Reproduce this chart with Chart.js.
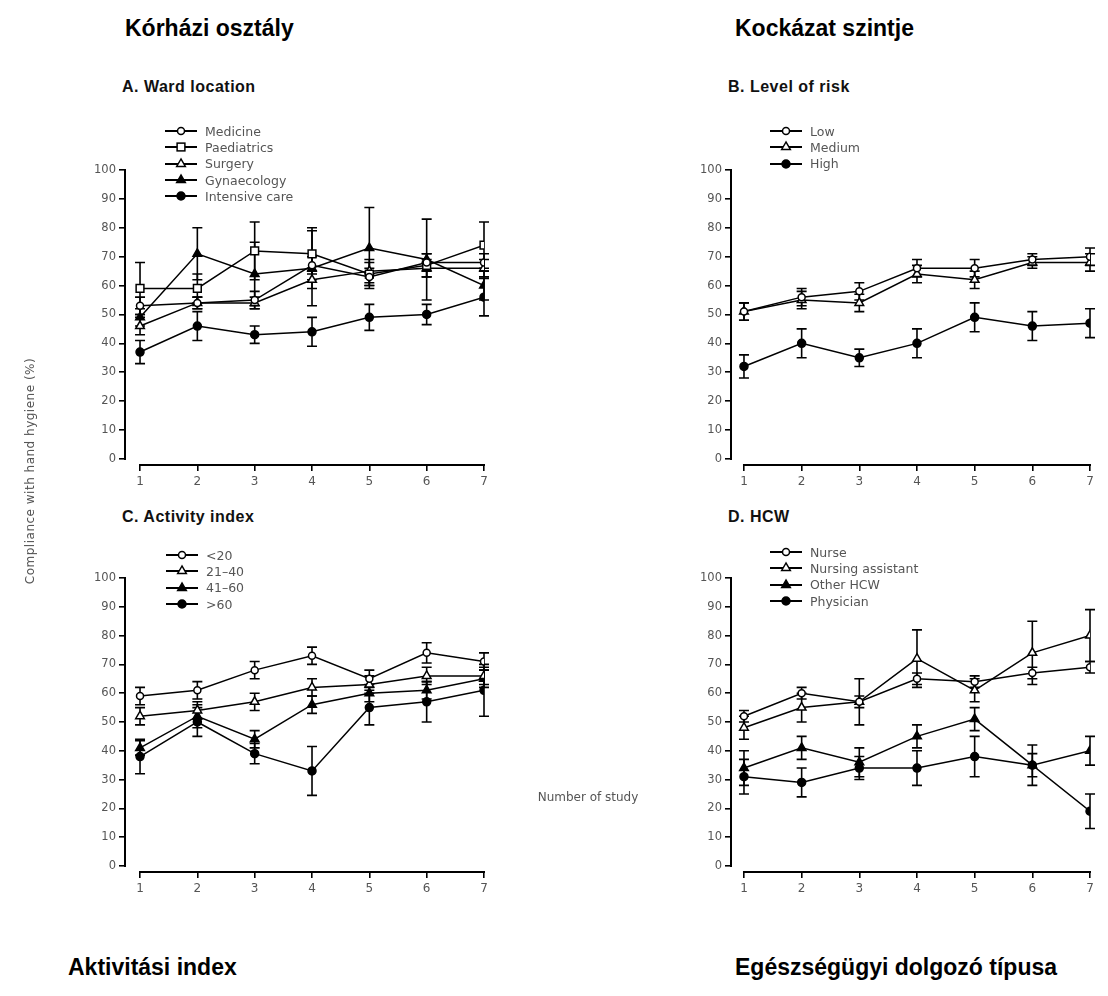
<!DOCTYPE html>
<html>
<head>
<meta charset="utf-8">
<script src="https://cdn.jsdelivr.net/npm/chart.js@4.4.0/dist/chart.umd.min.js"></script>
<style>
  html,body{margin:0;padding:0;background:#fff;}
  #page{position:relative;width:1108px;height:996px;overflow:hidden;background:#fff;font-family:"Liberation Sans",Arial,sans-serif;}
  .big{position:absolute;font-weight:bold;font-size:23px;color:#000;line-height:26px;white-space:nowrap;}
  .ptitle{position:absolute;font-weight:bold;font-size:16px;letter-spacing:0.5px;color:#111;line-height:18px;white-space:nowrap;}
  .cv{position:absolute;}
  .legend{position:absolute;font-family:"DejaVu Sans",sans-serif;font-size:12.5px;color:#555;white-space:nowrap;}
  .legend .row{height:16.3px;display:flex;align-items:center;}
  .legend svg{margin-right:8px;flex:none;}
  .axt{position:absolute;font-family:"DejaVu Sans",sans-serif;font-size:12px;font-weight:normal;color:#555;white-space:nowrap;}
</style>
</head>
<body>
<div id="page">
  <div class="big" style="left:125px;top:15px;">Kórházi osztály</div>
  <div class="big" style="left:735px;top:15px;">Kockázat szintje</div>
  <div class="big" style="left:68px;top:954px;">Aktivitási index</div>
  <div class="big" style="left:735px;top:954px;">Egészségügyi dolgozó típusa</div>

  <div class="ptitle" style="left:122px;top:78px;">A. Ward location</div>
  <div class="ptitle" style="left:728px;top:78px;">B. Level of risk</div>
  <div class="ptitle" style="left:122px;top:508px;">C. Activity index</div>
  <div class="ptitle" style="left:728px;top:508px;">D. HCW</div>

  <canvas id="cA" class="cv" width="500" height="350" style="left:0px;top:150px;"></canvas>
  <canvas id="cB" class="cv" width="500" height="350" style="left:606px;top:150px;"></canvas>
  <canvas id="cC" class="cv" width="500" height="349" style="left:0px;top:558px;"></canvas>
  <canvas id="cD" class="cv" width="500" height="349" style="left:606px;top:558px;"></canvas>

  <div id="legA" class="legend" style="left:165px;top:123px;"></div>
  <div id="legB" class="legend" style="left:770px;top:123px;"></div>
  <div id="legC" class="legend" style="left:166px;top:547px;"></div>
  <div id="legD" class="legend" style="left:770px;top:544px;"></div>

  <div class="axt" style="left:30px;top:471px;width:260px;margin-left:-130px;margin-top:-8px;height:16px;line-height:16px;text-align:center;letter-spacing:0.5px;transform:rotate(-90deg);">Compliance with hand hygiene (%)</div>
  <div class="axt" style="left:588px;top:797px;transform:translate(-50%,-50%);">Number of study</div>
</div>

<script>
// ---------- DATA ----------
const studies = [1, 2, 3, 4, 5, 6, 7];
const yTickValues = [0, 10, 20, 30, 40, 50, 60, 70, 80, 90, 100];

// A. Ward location
const wardLabels = ['Medicine', 'Paediatrics', 'Surgery', 'Gynaecology', 'Intensive care'];
const wardMedicine       = [53, 54, 55, 67, 63, 68, 68];
const wardMedicineErr    = [3, 2, 3, 3, 3, 3, 3];
const wardPaediatrics    = [59, 59, 72, 71, 64, 67, 74];
const wardPaediatricsErr = [9, 5, 10, 9, 4, 4, 8];
const wardSurgery        = [46, 54, 54, 62, 65, 66, 66];
const wardSurgeryErr     = [3, 2, 2, 3, 4, 3, 3];
const wardGynaecology    = [49, 71, 64, 66, 73, 69, 60];
const wardGynaecologyErr = [3, 9, 11, 13, 14, 14, 5];
const wardIntensive      = [37, 46, 43, 44, 49, 50, 56];
const wardIntensiveErr   = [4, 5, 3, 5, 4.5, 3.5, 6.5];

// B. Level of risk
const riskLabels = ['Low', 'Medium', 'High'];
const riskLow       = [51, 56, 58, 66, 66, 69, 70];
const riskLowErr    = [3, 3, 3, 3, 3, 2, 3];
const riskMedium    = [51, 55, 54, 64, 62, 68, 68];
const riskMediumErr = [3, 3, 3, 3, 3, 2, 3];
const riskHigh      = [32, 40, 35, 40, 49, 46, 47];
const riskHighErr   = [4, 5, 3, 5, 5, 5, 5];

// C. Activity index
const activityLabels = ['<20', '21\u201340', '41\u201360', '>60'];
const actUnder20    = [59, 61, 68, 73, 65, 74, 71];
const actUnder20Err = [3, 3, 3, 3, 3, 3.5, 3];
const act21to40     = [52, 54, 57, 62, 63, 66, 66];
const act21to40Err  = [3, 3, 3, 3, 3, 3, 3];
const act41to60     = [41, 52, 44, 56, 60, 61, 65];
const act41to60Err  = [2.5, 4, 3, 3, 3, 3, 3];
const actOver60     = [38, 50, 39, 33, 55, 57, 61];
const actOver60Err  = [6, 5, 3.5, 8.5, 6, 7, 9];

// D. HCW
const hcwLabels = ['Nurse', 'Nursing assistant', 'Other HCW', 'Physician'];
const hcwNurse        = [52, 60, 57, 65, 64, 67, 69];
const hcwNurseErr     = [2, 2, 2, 2, 2, 2, 2];
const hcwAssistant    = [48, 55, 57, 72, 61, 74, 80];
const hcwAssistantErr = [4, 5, 8, 10, 4, 11, 9];
const hcwOther        = [34, 41, 36, 45, 51, 35, 40];
const hcwOtherErr     = [6, 4, 5, 4, 4, 4, 5];
const hcwPhysician    = [31, 29, 34, 34, 38, 35, 19];
const hcwPhysicianErr = [6, 5, 4, 6, 7, 7, 6];

// ---------- STYLES ----------
const markers = {
  openCircle:     {pointStyle: 'circle',   radius: 3.5, fill: '#fff'},
  openSquare:     {pointStyle: 'rect',     radius: 5.5, fill: '#fff'},
  openTriangle:   {pointStyle: 'triangle', radius: 5,   fill: '#fff'},
  filledTriangle: {pointStyle: 'triangle', radius: 5,   fill: '#000'},
  filledCircle:   {pointStyle: 'circle',   radius: 4,   fill: '#000'}
};
const tickFont = {family: 'DejaVu Sans', size: 12};
const tickColor = '#555';

function markerSvg(kind) {
  const m = markers[kind];
  const cx = 16, cy = 7;
  let shape = '';
  if (m.pointStyle === 'circle') {
    shape = `<circle cx="${cx}" cy="${cy}" r="${m.radius}" fill="${m.fill}" stroke="#000" stroke-width="1.5"/>`;
  } else if (m.pointStyle === 'rect') {
    const s = m.radius / Math.SQRT2;
    shape = `<rect x="${cx - s}" y="${cy - s}" width="${2 * s}" height="${2 * s}" fill="${m.fill}" stroke="#000" stroke-width="1.5"/>`;
  } else {
    const r = m.radius;
    shape = `<polygon points="${cx},${cy - r} ${cx - r * 0.866},${cy + r * 0.5} ${cx + r * 0.866},${cy + r * 0.5}" fill="${m.fill}" stroke="#000" stroke-width="1.5"/>`;
  }
  return `<svg width="32" height="14" viewBox="0 0 32 14"><line x1="0" y1="${cy}" x2="32" y2="${cy}" stroke="#000" stroke-width="2"/>${shape}</svg>`;
}

function buildLegend(id, labels, kinds) {
  const el = document.getElementById(id);
  el.innerHTML = labels.map((l, i) => {
    const span = document.createElement('span');
    span.textContent = l;
    return `<div class="row">${markerSvg(kinds[i])}${span.outerHTML}</div>`;
  }).join('');
}

const errorBarPlugin = {
  id: 'errorBars',
  beforeDatasetsDraw(chart) {
    const ctx = chart.ctx, xs = chart.scales.x, ys = chart.scales.y;
    ctx.save();
    ctx.strokeStyle = '#000';
    ctx.lineWidth = 1.6;
    chart.data.datasets.forEach(ds => {
      ds.data.forEach((p, i) => {
        const e = ds.errors[i];
        if (!e) return;
        const x = xs.getPixelForValue(p.x);
        const y1 = ys.getPixelForValue(p.y + e);
        const y2 = ys.getPixelForValue(p.y - e);
        ctx.beginPath();
        ctx.moveTo(x, y1); ctx.lineTo(x, y2);
        ctx.moveTo(x - 5, y1); ctx.lineTo(x + 5, y1);
        ctx.moveTo(x - 5, y2); ctx.lineTo(x + 5, y2);
        ctx.stroke();
      });
    });
    ctx.restore();
  }
};

const axisLinePlugin = {
  id: 'axisLines',
  afterDraw(chart) {
    const {ctx, chartArea: a, scales: {x, y}} = chart;
    ctx.save();
    ctx.strokeStyle = '#000';
    ctx.lineWidth = 2;
    ctx.beginPath();
    ctx.moveTo(a.left, y.getPixelForValue(yTickValues[yTickValues.length - 1]) - 1);
    ctx.lineTo(a.left, y.getPixelForValue(yTickValues[0]) + 1);
    ctx.moveTo(x.getPixelForValue(studies[0]) - 1, a.bottom);
    ctx.lineTo(x.getPixelForValue(studies[studies.length - 1]) + 1, a.bottom);
    ctx.stroke();
    ctx.restore();
  }
};

function makeChart(canvasId, series, xMin) {
  const datasets = series.map(s => {
    const m = markers[s.marker];
    return {
      label: s.label,
      data: studies.map((x, i) => ({x: x, y: s.values[i]})),
      errors: s.err,
      borderColor: '#000',
      borderWidth: 1.5,
      tension: 0,
      pointStyle: m.pointStyle,
      pointRadius: m.radius,
      pointBackgroundColor: m.fill,
      pointBorderColor: '#000',
      pointBorderWidth: 1.5
    };
  });
  const gridOpts = {drawOnChartArea: false, drawTicks: true, tickLength: 6, color: '#000', lineWidth: 1.6};
  return new Chart(document.getElementById(canvasId), {
    type: 'line',
    data: {datasets},
    options: {
      responsive: false,
      animation: false,
      layout: {padding: {top: 20, right: 16, left: 0, bottom: 0}},
      plugins: {legend: {display: false}, tooltip: {enabled: false}},
      scales: {
        x: {
          type: 'linear', min: xMin, max: studies[studies.length - 1],
          ticks: {stepSize: 1, includeBounds: false, font: tickFont, color: tickColor, padding: 4},
          grid: gridOpts,
          border: {display: false},
          afterFit(s) { s.height = 35; }
        },
        y: {
          type: 'linear', min: -2.1, max: yTickValues[yTickValues.length - 1],
          ticks: {stepSize: 10, includeBounds: false, font: {family: 'DejaVu Sans', size: 11.5}, color: tickColor, padding: 3},
          grid: gridOpts,
          border: {display: false},
          afterFit(s) { s.width = 125; }
        }
      }
    },
    plugins: [errorBarPlugin, axisLinePlugin]
  });
}

// Panel A
const wardKinds = ['openCircle', 'openSquare', 'openTriangle', 'filledTriangle', 'filledCircle'];
makeChart('cA', [
  {label: wardLabels[0], values: wardMedicine, err: wardMedicineErr, marker: wardKinds[0]},
  {label: wardLabels[1], values: wardPaediatrics, err: wardPaediatricsErr, marker: wardKinds[1]},
  {label: wardLabels[2], values: wardSurgery, err: wardSurgeryErr, marker: wardKinds[2]},
  {label: wardLabels[3], values: wardGynaecology, err: wardGynaecologyErr, marker: wardKinds[3]},
  {label: wardLabels[4], values: wardIntensive, err: wardIntensiveErr, marker: wardKinds[4]}
], 0.738);
buildLegend('legA', wardLabels, wardKinds);

// Panel B
const riskKinds = ['openCircle', 'openTriangle', 'filledCircle'];
makeChart('cB', [
  {label: riskLabels[0], values: riskLow, err: riskLowErr, marker: riskKinds[0]},
  {label: riskLabels[1], values: riskMedium, err: riskMediumErr, marker: riskKinds[1]},
  {label: riskLabels[2], values: riskHigh, err: riskHighErr, marker: riskKinds[2]}
], 0.775);
buildLegend('legB', riskLabels, riskKinds);

// Panel C
const actKinds = ['openCircle', 'openTriangle', 'filledTriangle', 'filledCircle'];
makeChart('cC', [
  {label: activityLabels[0], values: actUnder20, err: actUnder20Err, marker: actKinds[0]},
  {label: activityLabels[1], values: act21to40, err: act21to40Err, marker: actKinds[1]},
  {label: activityLabels[2], values: act41to60, err: act41to60Err, marker: actKinds[2]},
  {label: activityLabels[3], values: actOver60, err: actOver60Err, marker: actKinds[3]}
], 0.738);
buildLegend('legC', activityLabels, actKinds);

// Panel D
const hcwKinds = ['openCircle', 'openTriangle', 'filledTriangle', 'filledCircle'];
makeChart('cD', [
  {label: hcwLabels[0], values: hcwNurse, err: hcwNurseErr, marker: hcwKinds[0]},
  {label: hcwLabels[1], values: hcwAssistant, err: hcwAssistantErr, marker: hcwKinds[1]},
  {label: hcwLabels[2], values: hcwOther, err: hcwOtherErr, marker: hcwKinds[2]},
  {label: hcwLabels[3], values: hcwPhysician, err: hcwPhysicianErr, marker: hcwKinds[3]}
], 0.775);
buildLegend('legD', hcwLabels, hcwKinds);
</script>
</body>
</html>
